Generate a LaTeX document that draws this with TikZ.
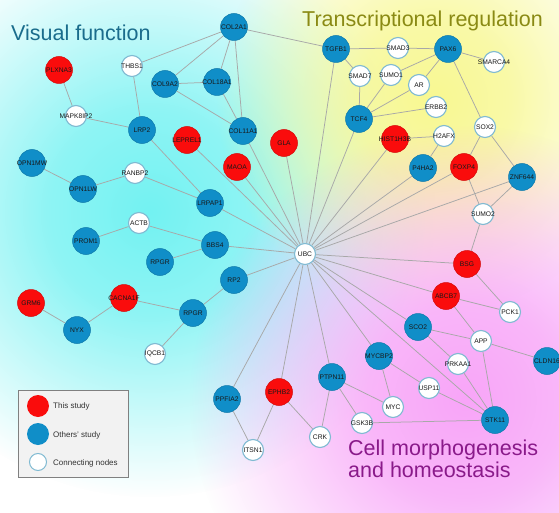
\documentclass[tikz,border=0pt]{standalone}
\usepackage{fontspec}
\setmainfont{Liberation Sans}
\usetikzlibrary{fadings}
\pgfdeclareradialshading{softshade}{\pgfpoint{0bp}{0bp}}{color(0bp)=(white); color(9bp)=(white!80!black); color(25bp)=(black); color(50bp)=(black)}
\pgfdeclarefading{softfade}{\pgfuseshading{softshade}}
\pgfdeclarelayer{bglayer}
\pgfdeclarelayer{edgelayer}
\pgfsetlayers{bglayer,edgelayer,main}
\definecolor{nred}{RGB}{250,12,12}
\definecolor{nblue}{RGB}{16,142,200}
\definecolor{wborder}{RGB}{128,186,210}
\definecolor{egray}{RGB}{168,168,168}
\definecolor{vfcol}{RGB}{26,108,140}
\definecolor{trcol}{RGB}{138,138,20}
\definecolor{cmcol}{RGB}{138,26,138}
\definecolor{bgcyan}{RGB}{115,242,242}
\definecolor{bgyellow}{RGB}{248,248,145}
\definecolor{bgpink}{RGB}{248,165,248}
\newcommand\zw[1]{\makebox[0pt]{#1}}
\begin{document}
\begin{tikzpicture}[x=1pt,y=-1pt,
  lab/.style={font=\fontsize{6.7}{7}\selectfont, text={rgb,255:red,25;green,25;blue,25}},
  rn/.style={circle, lab, fill=nred, draw=nred!85!black, line width=0.5pt, minimum size=27pt, inner sep=0pt},
  bn/.style={circle, lab, fill=nblue, draw=nblue!85!black, line width=0.5pt, minimum size=27pt, inner sep=0pt},
  wn/.style={circle, lab, fill=white, draw=wborder, line width=1.1pt, minimum size=21pt, inner sep=0pt},
  ed/.style={draw=egray, line width=0.75pt},
  ttl/.style={anchor=base west, font=\fontsize{21.5}{22}\selectfont, inner sep=0pt},
  legtxt/.style={anchor=west, font=\fontsize{8}{9}\selectfont, text={rgb,255:red,50;green,50;blue,50}, inner sep=0pt}]
\useasboundingbox (0,0) rectangle (559,513);
% background
\begin{pgfonlayer}{bglayer}
\fill[white] (0,0) rectangle (559,513);
\begin{scope}
\clip (0,0) rectangle (559,513);
\fill[bgcyan, path fading=softfade] (150,212) circle [radius=285pt];
\fill[bgyellow, path fading=softfade] (432,100) circle [radius=215pt];
\fill[bgpink, path fading=softfade] (465,400) circle [radius=275pt];
\end{scope}
% titles
\node[ttl, text=vfcol] (tvis) at (11,41) {Visual function};
\node[ttl, text=trcol] (ttr) at (302,27) {Transcriptional regulation};
\node[ttl, text=cmcol] (tcm1) at (348,455) {Cell morphogenesis};
\node[ttl, text=cmcol] (tcm2) at (348,477) {and homeostasis};
\end{pgfonlayer}
% nodes
\node[rn] (PLXNA3) at (59,70) {\zw{PLXNA3}};
\node[wn] (THBS1) at (132,66) {\zw{THBS1}};
\node[bn] (COL9A2) at (165,84) {\zw{COL9A2}};
\node[wn] (MAPK8IP2) at (76,116) {\zw{MAPK8IP2}};
\node[bn] (LRP2) at (142,130) {\zw{LRP2}};
\node[bn] (COL2A1) at (234,27) {\zw{COL2A1}};
\node[bn] (COL18A1) at (217,82) {\zw{COL18A1}};
\node[bn] (COL11A1) at (243,131) {\zw{COL11A1}};
\node[rn] (LEPREL1) at (187,140) {\zw{LEPREL1}};
\node[rn] (GLA) at (284,143) {\zw{GLA}};
\node[rn] (MAOA) at (237,167) {\zw{MAOA}};
\node[bn] (TGFB1) at (336,49) {\zw{TGFB1}};
\node[wn] (SMAD3) at (398,48) {\zw{SMAD3}};
\node[bn] (PAX6) at (448,49) {\zw{PAX6}};
\node[wn] (SMARCA4) at (494,62) {\zw{SMARCA4}};
\node[wn] (SMAD7) at (360,76) {\zw{SMAD7}};
\node[wn] (SUMO1) at (391,75) {\zw{SUMO1}};
\node[wn] (AR) at (419,85) {\zw{AR}};
\node[wn] (ERBB2) at (436,107) {\zw{ERBB2}};
\node[bn] (TCF4) at (359,119) {\zw{TCF4}};
\node[rn] (HIST1H3B) at (395,139) {\zw{HIST1H3B}};
\node[wn] (H2AFX) at (444,136) {\zw{H2AFX}};
\node[wn] (SOX2) at (485,127) {\zw{SOX2}};
\node[bn] (P4HA2) at (423,168) {\zw{P4HA2}};
\node[rn] (FOXP4) at (464,167) {\zw{FOXP4}};
\node[bn] (ZNF644) at (522,177) {\zw{ZNF644}};
\node[wn] (SUMO2) at (483,214) {\zw{SUMO2}};
\node[rn] (BSG) at (467,264) {\zw{BSG}};
\node[rn] (ABCB7) at (446,296) {\zw{ABCB7}};
\node[wn] (PCK1) at (510,312) {\zw{PCK1}};
\node[bn] (SCO2) at (418,327) {\zw{SCO2}};
\node[wn] (APP) at (481,341) {\zw{APP}};
\node[bn] (CLDN16) at (547,361) {\zw{CLDN16}};
\node[wn] (PRKAA1) at (458,364) {\zw{PRKAA1}};
\node[bn] (MYCBP2) at (379,356) {\zw{MYCBP2}};
\node[wn] (USP11) at (429,388) {\zw{USP11}};
\node[wn] (MYC) at (393,407) {\zw{MYC}};
\node[bn] (STK11) at (495,420) {\zw{STK11}};
\node[wn] (GSK3B) at (362,423) {\zw{GSK3B}};
\node[bn] (PTPN11) at (332,377) {\zw{PTPN11}};
\node[rn] (EPHB2) at (279,392) {\zw{EPHB2}};
\node[wn] (CRK) at (320,437) {\zw{CRK}};
\node[bn] (PPFIA2) at (227,399) {\zw{PPFIA2}};
\node[wn] (ITSN1) at (253,450) {\zw{ITSN1}};
\node[wn] (UBC) at (305,254) {\zw{UBC}};
\node[bn] (LRPAP1) at (210,203) {\zw{LRPAP1}};
\node[bn] (BBS4) at (215,245) {\zw{BBS4}};
\node[bn] (RP2) at (234,280) {\zw{RP2}};
\node[bn] (RPGRb) at (193,313) {\zw{RPGR}};
\node[bn] (RPGRa) at (160,262) {\zw{RPGR}};
\node[wn] (ACTB) at (139,223) {\zw{ACTB}};
\node[bn] (PROM1) at (86,241) {\zw{PROM1}};
\node[bn] (OPN1LW) at (83,189) {\zw{OPN1LW}};
\node[wn] (RANBP2) at (135,173) {\zw{RANBP2}};
\node[bn] (OPN1MW) at (32,163) {\zw{OPN1MW}};
\node[rn] (GRM6) at (31,303) {\zw{GRM6}};
\node[bn] (NYX) at (77,330) {\zw{NYX}};
\node[rn] (CACNA1F) at (124,298) {\zw{CACNA1F}};
\node[wn] (IQCB1) at (155,354) {\zw{IQCB1}};
% edges (behind nodes)
\begin{pgfonlayer}{edgelayer}
\foreach \a/\b in {PLXNA3/MAPK8IP2, MAPK8IP2/LRP2, THBS1/LRP2, THBS1/COL2A1, COL9A2/COL2A1, COL9A2/COL18A1, COL9A2/COL11A1, COL2A1/COL18A1, COL2A1/COL11A1, COL18A1/COL11A1, COL2A1/TGFB1, LRP2/LRPAP1, RANBP2/LRPAP1, OPN1MW/OPN1LW, OPN1LW/RANBP2, ACTB/PROM1, ACTB/BBS4, RPGRa/BBS4, GRM6/NYX, NYX/CACNA1F, CACNA1F/RPGRb, RPGRb/RP2, RPGRb/IQCB1,
 UBC/COL11A1, UBC/LEPREL1, UBC/MAOA, UBC/GLA, UBC/TGFB1, UBC/TCF4, UBC/HIST1H3B, UBC/P4HA2, UBC/FOXP4, UBC/ZNF644, UBC/LRPAP1, UBC/BBS4, UBC/RP2, UBC/BSG, UBC/ABCB7, UBC/SCO2, UBC/MYCBP2, UBC/PTPN11, UBC/EPHB2, UBC/PPFIA2, UBC/STK11,
 TGFB1/SMAD3, SMAD3/PAX6, TGFB1/SMAD7, SMAD7/TCF4, PAX6/SUMO1, PAX6/AR, PAX6/SMARCA4, PAX6/SOX2, SUMO1/TCF4, AR/TCF4, ERBB2/TCF4, HIST1H3B/H2AFX, H2AFX/P4HA2, SOX2/FOXP4, SOX2/ZNF644, FOXP4/SUMO2, ZNF644/SUMO2, SUMO2/BSG,
 BSG/PCK1, ABCB7/PCK1, ABCB7/APP, SCO2/APP, APP/CLDN16, APP/STK11, SCO2/PRKAA1, PRKAA1/STK11, MYCBP2/USP11, MYCBP2/MYC, USP11/STK11, PTPN11/MYC, PTPN11/GSK3B, GSK3B/STK11, PTPN11/CRK, EPHB2/CRK, EPHB2/ITSN1, PPFIA2/ITSN1}
  \draw[ed] (\a) -- (\b);
\end{pgfonlayer}
% legend
\node[draw={rgb,255:red,128;green,128;blue,128}, fill={rgb,255:red,242;green,242;blue,242}, line width=0.8pt, minimum width=110pt, minimum height=87pt, inner sep=0pt, anchor=north west] (legbox) at (18,390) {};
\node[circle, fill=nred, minimum size=22pt, inner sep=0pt] (lr) at (38,406) {};
\node[circle, fill=nblue, minimum size=22pt, inner sep=0pt] (lb) at (38,434) {};
\node[circle, fill=white, draw=wborder, line width=1pt, minimum size=17pt, inner sep=0pt] (lw) at (38,462) {};
\node[legtxt] (ltr) at (53,406) {This study};
\node[legtxt] (ltb) at (53,435) {Others' study};
\node[legtxt] (ltw) at (53,463) {Connecting nodes};
\end{tikzpicture}
\end{document}
